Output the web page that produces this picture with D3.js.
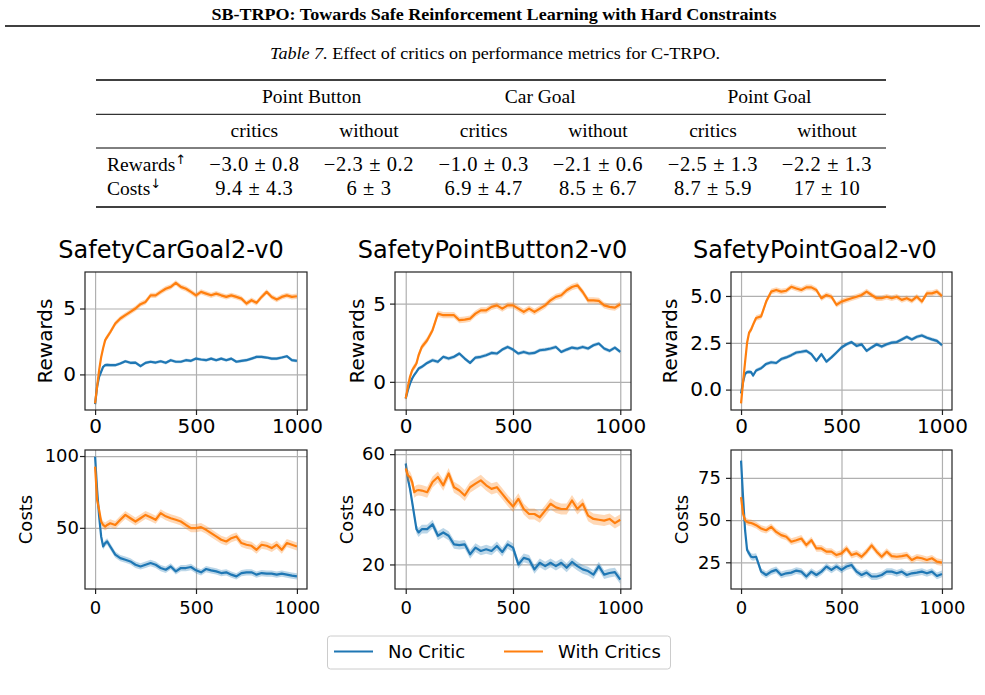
<!DOCTYPE html>
<html><head><meta charset="utf-8">
<script src="https://cdn.jsdelivr.net/npm/d3@7"></script>
<style>body{margin:0;background:#fff}svg{display:block}</style>
</head><body>
<svg id="c" width="985" height="695"></svg>
<script>
// ---------- DATA ----------
const steps = [0,10,20,30,40,50,60,75,100,125,150,175,200,225,250,275,300,325,350,375,400,425,450,475,500,525,550,575,600,625,650,675,700,725,750,775,800,825,850,875,900,925,950,975,1000];

const carGoalRewardsNoCritic = [-2.25,-0.93,-0.18,0.2,0.58,0.7,0.72,0.7,0.7,0.83,1.0,0.88,0.9,0.63,0.88,0.96,0.9,1.0,0.88,1.08,0.96,0.96,1.08,1.03,1.2,1.13,1.08,1.2,1.08,1.2,1.08,1.2,0.96,1.03,1.08,1.2,1.33,1.33,1.28,1.2,1.2,1.28,1.38,1.08,1.03];
const carGoalRewardsWithCritics = [-2.2,-0.93,0.33,1.3,2.0,2.6,2.85,3.2,3.86,4.24,4.5,4.75,5.0,5.33,5.5,6.0,6.0,6.26,6.5,6.64,6.95,6.64,6.5,6.26,6.0,6.26,6.13,6.0,6.13,6.0,5.88,6.0,5.88,5.75,5.38,5.63,5.43,5.88,6.26,5.88,5.68,5.88,6.0,5.88,5.93];
const pointButtonRewardsNoCritic = [-1.06,-0.53,-0.11,0.21,0.45,0.64,0.85,0.96,1.21,1.38,1.28,1.6,1.49,1.6,1.81,1.49,1.21,1.55,1.6,1.7,1.85,1.81,2.06,2.23,2.06,1.81,1.91,1.81,1.85,2.02,2.06,2.13,2.23,1.91,2.06,2.19,2.13,2.23,2.13,2.34,2.45,2.13,1.98,2.19,1.91];
const pointButtonRewardsWithCritics = [-1.06,-0.32,0.32,0.74,0.95,1.17,1.7,2.23,2.66,3.3,4.36,4.26,4.26,4.26,3.94,3.98,4.04,4.36,4.57,4.57,4.79,4.89,4.68,4.89,4.89,4.68,4.47,4.68,4.47,4.68,4.89,5.21,5.43,5.53,5.85,6.06,6.17,5.74,5.21,5.21,5.17,4.89,4.79,4.74,4.96];
const pointGoalRewardsNoCritic = [-0.21,0.4,0.84,0.93,0.95,0.93,0.75,1.02,1.14,1.37,1.46,1.42,1.63,1.72,1.84,1.98,2.02,2.07,1.89,1.54,1.89,1.49,1.72,1.98,2.25,2.42,2.54,2.33,2.42,2.07,2.25,2.42,2.3,2.42,2.51,2.54,2.68,2.82,2.68,2.82,2.89,2.77,2.68,2.6,2.37];
const pointGoalRewardsWithCritics = [-0.74,0.4,1.46,2.5,3.04,3.2,3.47,3.82,3.91,4.7,5.23,5.32,5.23,5.28,5.49,5.4,5.32,5.46,5.46,5.32,4.88,5.05,4.96,4.53,4.7,4.79,4.88,4.96,5.05,5.23,5.05,4.88,4.88,4.96,4.88,4.96,4.79,4.88,4.75,4.96,4.7,5.14,5.14,5.23,5.0];

const carGoalCostsNoCritic = [99.5,76.4,57.9,44,37,39.4,40.5,37,31.3,28.9,27.8,26.6,24.3,23.1,24.3,25.5,24.3,22,20.8,23.1,19.7,22,22,22.7,20.4,19,21.3,20.4,19.7,18.5,19,17.4,16.2,18.5,19,19,17.4,18.5,18.1,18.1,17.4,18.1,17.4,16.7,16.2];
const carGoalCostsWithCritics = [92.6,69.4,62.5,54.4,52,50.9,52,53.2,52,55.6,59,56.7,54.4,56.7,59,57.4,55.6,60.2,58,56.7,55.6,54.4,52,49.8,49.8,50.5,48.6,46.3,44,41.7,40.5,42.8,44,39.4,38.2,37.5,34.7,38.2,37.5,35.9,38.2,34.7,39.4,38.2,37];
const pointButtonCostsNoCritic = [56.6,51.1,47.4,42.6,37.7,32.8,31.6,32.8,32.8,34.6,30.4,31.6,30.4,27.3,27,27.3,23.7,26.1,24.9,25.5,24.9,26.7,24.5,27.3,26.1,20,22.4,21.8,18.2,20.6,19.4,20.6,19.4,20.6,18.8,20.9,19.4,18.2,17.6,16.3,19.4,16.3,16.9,17.2,14.5];
const pointButtonCostsWithCritics = [54.8,52.3,51.7,49.9,46.2,46.8,47,46.8,46.2,49.9,51.7,48.7,53,48,46.8,45,48,49.3,50.5,48.7,47.4,48,45.6,43.2,41,43.8,40.1,38.3,38.3,37.1,39.5,42,40.7,40.1,40.1,43.2,40.1,42,37.7,36.5,36.2,35.9,36.5,35,36.2];
const pointGoalCostsNoCritic = [85.2,63.6,44,32.3,30.3,28.3,28,28.3,19.5,17.5,19.5,20.5,17.5,18.5,18.9,20.1,19.5,16.6,19.5,17.5,19.5,22.5,20.5,22.5,20.5,22.5,23.4,19.5,17.5,18.9,16.6,16.6,17.5,19.5,19.5,18.5,19.5,17.5,18.5,18.9,19.5,18.5,19.5,16.9,18.1];
const pointGoalCostsWithCritics = [63.6,53.8,49.9,48.9,48.5,48.3,47.8,47,45,44,46,43,41.1,40.1,37.2,38.1,39.1,35.2,38.1,33.2,33.2,31.3,31.3,29.3,30.3,33.2,29.3,30.3,28.3,31.3,35,31.3,28.3,31.3,28.7,28.3,28.7,29.3,26.4,27.9,27.4,26.4,27.4,25.4,24.8];

// std half-widths of the shaded bands, per environment
const rewardsBandNoCritic = [0.12,0.12,0.1];
const rewardsBandWithCritics = [0.2,0.2,0.15];
const costsBandNoCritic = [2.2,1.6,2.0];
const costsBandWithCritics = [2.8,2.0,2.0];

const envTitles = ["SafetyCarGoal2-v0","SafetyPointButton2-v0","SafetyPointGoal2-v0"];
const seriesNames = ["No Critic","With Critics"];
const xTicks = [0,500,1000];
const rewardsTicks = [[0,5],[0,5],[0,2.5,5]];
const costsTicks = [[50,100],[20,40,60],[25,50,75]];
const rewardsLimits = [[-2.7,7.77],[-1.8,7.02],[-1.09,6.28]];
const costsLimits = [[7.4,104.2],[11.1,61.5],[9.2,91.5]];

// table
const headerTitle = "SB-TRPO: Towards Safe Reinforcement Learning with Hard Constraints";
const tableCaptionLabel = "Table 7.";
const tableCaptionText = " Effect of critics on performance metrics for C-TRPO.";
const tableGroups = ["Point Button","Car Goal","Point Goal"];
const tableSubcols = ["critics","without","critics","without","critics","without"];
const tableRowLabels = ["Rewards","Costs"];
const tableRowArrows = ["↑","↓"];
const tableRewards = ["−3.0 ± 0.8","−2.3 ± 0.2","−1.0 ± 0.3","−2.1 ± 0.6","−2.5 ± 1.3","−2.2 ± 1.3"];
const tableCosts = ["9.4 ± 4.3","6 ± 3","6.9 ± 4.7","8.5 ± 6.7","8.7 ± 5.9","17 ± 10"];

// ---------- DRAW ----------
const svg = d3.select("#c");
const colors = ["#1f77b4","#ff7f0e"];
const serif = "'Liberation Serif','Times New Roman',serif";
const sans = "'DejaVu Sans',sans-serif";

// header
svg.append("text").attr("x",494).attr("y",19.5).attr("text-anchor","middle")
  .attr("font-family",serif).attr("font-weight","bold").attr("font-size",17)
  .attr("textLength",565).attr("lengthAdjust","spacingAndGlyphs").text(headerTitle);
svg.append("line").attr("x1",5).attr("x2",980).attr("y1",26).attr("y2",26).attr("stroke","#000").attr("stroke-width",1.6);

const cap = svg.append("text").attr("x",495).attr("y",58.5).attr("text-anchor","middle")
  .attr("font-family",serif).attr("font-size",17.5).attr("textLength",450).attr("lengthAdjust","spacingAndGlyphs");
cap.append("tspan").attr("font-style","italic").text(tableCaptionLabel);
cap.append("tspan").text(tableCaptionText);

// table
const tL = 96, tR = 886;
[[80,1.6],[114.3,1],[148,1],[207,1.6]].forEach(([y,w])=>{
  svg.append("line").attr("x1",tL).attr("x2",tR).attr("y1",y).attr("y2",y).attr("stroke","#000").attr("stroke-width",w);
});
const groupX = [311.6,540.2,769.5];
const colX = [254.4,369,483.7,598,713,827];
const tf = 19.5;
tableGroups.forEach((g,i)=>svg.append("text").attr("x",groupX[i]).attr("y",103.3).attr("text-anchor","middle")
  .attr("font-family",serif).attr("font-size",tf).text(g));
tableSubcols.forEach((g,i)=>svg.append("text").attr("x",colX[i]).attr("y",136.7).attr("text-anchor","middle")
  .attr("font-family",serif).attr("font-size",tf).text(g));
[tableRewards,tableCosts].forEach((row,r)=>{
  const y = [170.7,194.5][r];
  const lab = svg.append("text").attr("x",107).attr("y",y).attr("font-family",serif).attr("font-size",tf);
  lab.append("tspan").text(tableRowLabels[r]);
  lab.append("tspan").attr("font-family",sans).attr("font-size",13).attr("dy",-7).text(tableRowArrows[r]);
  row.forEach((v,i)=>svg.append("text").attr("x",colX[i]).attr("y",y).attr("text-anchor","middle")
    .attr("font-family",serif).attr("font-size",20.5).attr("letter-spacing",0.6).text(v));
});

// plots
const colRanges = [[85,307],[395,631],[731,952]];
const rowRanges = [[272,410],[450,589]];
const titleX = [171,492.5,815];
const ylabelX = [[45,356.7,670],[25,346.7,681.7]];

const rewardsNo = [carGoalRewardsNoCritic,pointButtonRewardsNoCritic,pointGoalRewardsNoCritic];
const rewardsWith = [carGoalRewardsWithCritics,pointButtonRewardsWithCritics,pointGoalRewardsWithCritics];
const costsNo = [carGoalCostsNoCritic,pointButtonCostsNoCritic,pointGoalCostsNoCritic];
const costsWith = [carGoalCostsWithCritics,pointButtonCostsWithCritics,pointGoalCostsWithCritics];

const panels = [];
for (let c=0;c<3;c++){
  panels.push({row:0,col:c,label:"Rewards",series:[rewardsNo[c],rewardsWith[c]],bands:[rewardsBandNoCritic[c],rewardsBandWithCritics[c]],
    ticks:rewardsTicks[c],lim:rewardsLimits[c],fmt:c===2?d3.format(".1f"):d3.format("d"),font:20,ypad:4,xpad:3.8});
  panels.push({row:1,col:c,label:"Costs",series:[costsNo[c],costsWith[c]],bands:[costsBandNoCritic[c],costsBandWithCritics[c]],
    ticks:costsTicks[c],lim:costsLimits[c],fmt:d3.format("d"),font:18,ypad:c===0?1:5,xpad:7.7});
}

panels.forEach(p=>{
  const [x0,x1] = colRanges[p.col], [y0,y1] = rowRanges[p.row];
  const x = d3.scaleLinear().domain([-50,1050]).range([x0,x1]);
  const y = d3.scaleLinear().domain(p.lim).range([y1,y0]);
  const g = svg.append("g");
  // grid
  g.append("g").attr("transform",`translate(0,${y1})`).call(d3.axisBottom(x).tickValues(xTicks).tickSize(-(y1-y0)).tickFormat(""))
    .call(s=>{s.select(".domain").remove();s.selectAll("line").attr("stroke","#b0b0b0").attr("stroke-width",1.2);});
  g.append("g").attr("transform",`translate(${x0},0)`).call(d3.axisLeft(y).tickValues(p.ticks).tickSize(-(x1-x0)).tickFormat(""))
    .call(s=>{s.select(".domain").remove();s.selectAll("line").attr("stroke","#b0b0b0").attr("stroke-width",1.2);});
  // series
  p.series.forEach((vals,k)=>{
    const data = steps.map((s,i)=>({s,v:vals[i]}));
    g.append("path").datum(data).attr("fill",colors[k]).attr("fill-opacity",0.3)
      .attr("d",d3.area().x(d=>x(d.s)).y0(d=>y(d.v-p.bands[k])).y1(d=>y(d.v+p.bands[k])));
    g.append("path").datum(data).attr("fill","none").attr("stroke",colors[k]).attr("stroke-width",2.2)
      .attr("stroke-linejoin","round").attr("d",d3.line().x(d=>x(d.s)).y(d=>y(d.v)));
  });
  // frame
  g.append("rect").attr("x",x0).attr("y",y0).attr("width",x1-x0).attr("height",y1-y0)
    .attr("fill","none").attr("stroke","#222").attr("stroke-width",1.2);
  // axes
  const ax = g.append("g").attr("transform",`translate(0,${y1})`)
    .call(d3.axisBottom(x).tickValues(xTicks).tickSize(5).tickPadding(p.xpad).tickFormat(d3.format("d")));
  const ay = g.append("g").attr("transform",`translate(${x0},0)`)
    .call(d3.axisLeft(y).tickValues(p.ticks).tickSize(5).tickPadding(p.ypad).tickFormat(p.fmt));
  [ax,ay].forEach(a=>{
    a.select(".domain").remove();
    a.selectAll("line").attr("stroke","#222").attr("stroke-width",1.2);
    a.selectAll("text").attr("font-family",sans).attr("font-size",p.font).attr("fill","#000");
  });
  // ylabel
  const ly = (y0+y1)/2;
  svg.append("text").attr("transform",`translate(${ylabelX[p.row][p.col]},${ly}) rotate(-90)`)
    .attr("text-anchor","middle").attr("dominant-baseline","central")
    .attr("font-family",sans).attr("font-size",p.row===0?20:18).text(p.label);
  if (p.row===0){
    svg.append("text").attr("x",titleX[p.col]).attr("y",258).attr("text-anchor","middle")
      .attr("font-family",sans).attr("font-size",24).text(envTitles[p.col]);
  }
});

// legend
const lg = svg.append("g");
lg.append("rect").attr("x",327.5).attr("y",636).attr("width",343).attr("height",33).attr("rx",3)
  .attr("fill","#fff").attr("stroke","#cccccc").attr("stroke-width",1);
const legX = [334,504];
seriesNames.forEach((n,i)=>{
  lg.append("line").attr("x1",legX[i]).attr("x2",legX[i]+39).attr("y1",651.5).attr("y2",651.5)
    .attr("stroke",colors[i]).attr("stroke-width",2);
  lg.append("text").attr("x",legX[i]+54).attr("y",658).attr("font-family",sans).attr("font-size",18).text(n);
});
</script>
</body></html>
